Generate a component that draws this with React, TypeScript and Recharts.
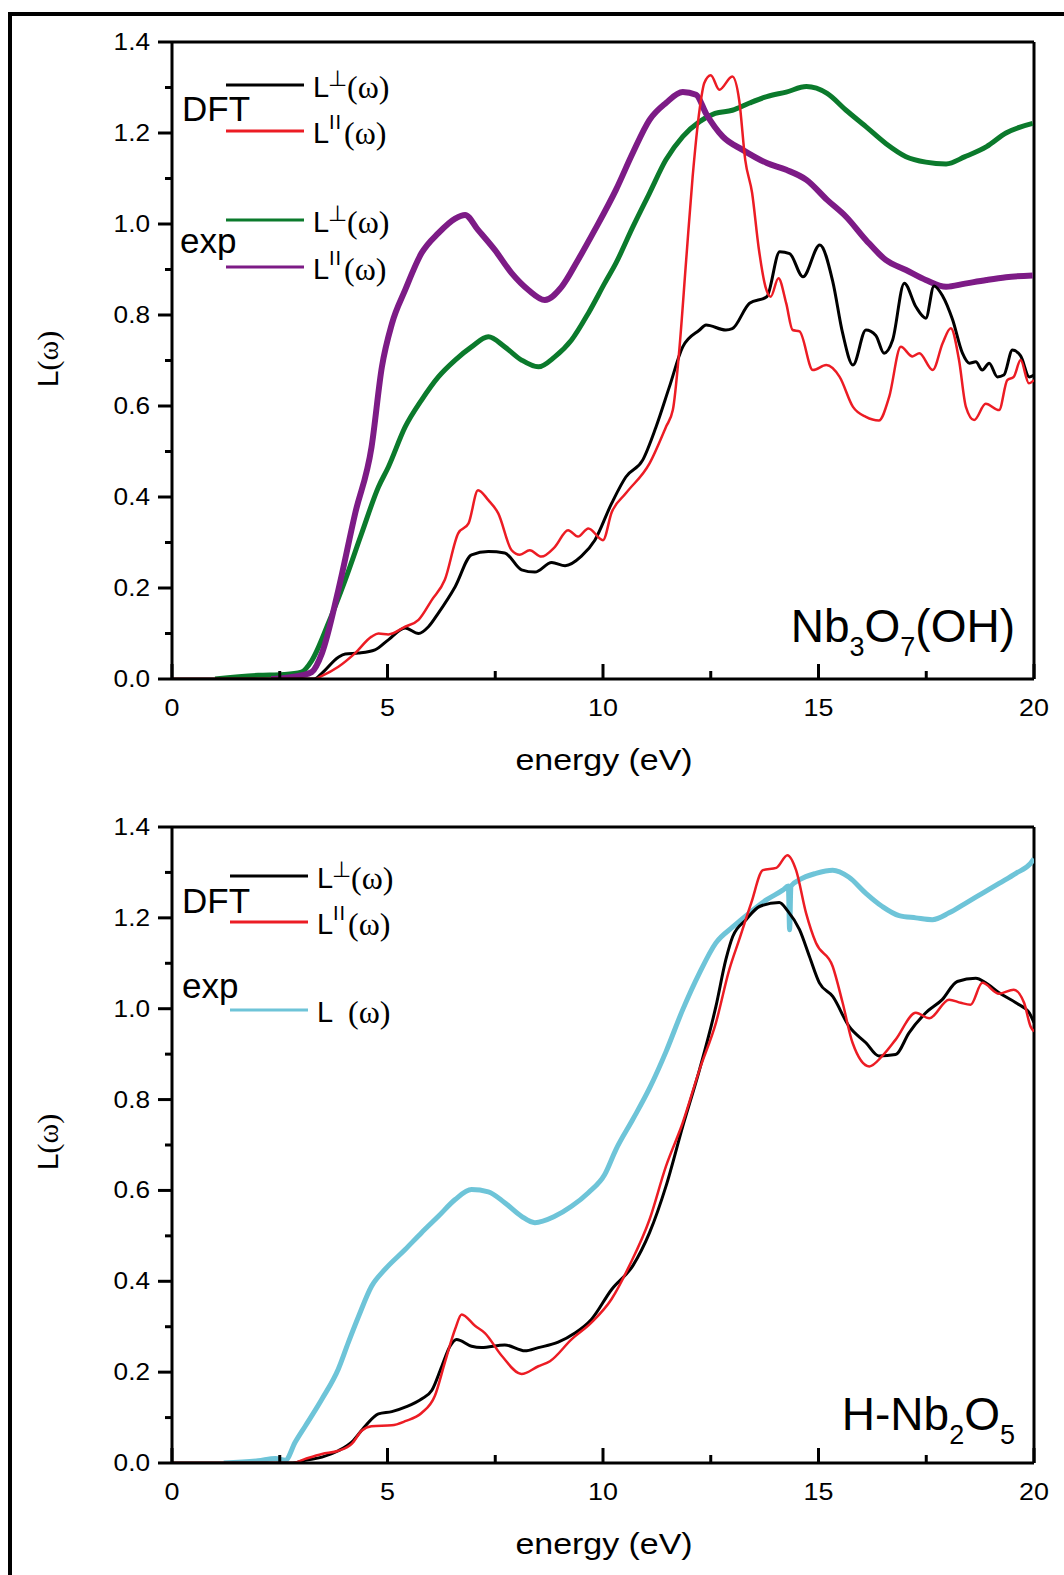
import React from 'react';
import { LineChart, Line, XAxis, YAxis, ReferenceLine } from 'recharts';

// ---------- axis ticks ----------
const xTicks = [0, 2.5, 5, 7.5, 10, 12.5, 15, 17.5, 20];
const xTickLabels = ['0', '', '5', '', '10', '', '15', '', '20'];
const yTicks = [0, 0.1, 0.2, 0.3, 0.4, 0.5, 0.6, 0.7, 0.8, 0.9, 1.0, 1.1, 1.2, 1.3, 1.4];
const yTickLabels = ['0.0', '', '0.2', '', '0.4', '', '0.6', '', '0.8', '', '1.0', '', '1.2', '', '1.4'];

// ---------- panel 1: Nb3O7(OH) ----------
const nbDftPerpE = [0, 3.3, 3.48, 3.86, 4.02, 4.33, 4.71, 5.02, 5.41, 5.72, 5.95, 6.18, 6.57, 6.95, 7.34, 7.72, 8.11, 8.42, 8.81, 9.12, 9.5, 9.81, 10.2, 10.53, 10.92, 11.23, 11.54, 11.85, 12.24, 12.39, 12.85, 13.0, 13.4, 13.8, 14.1, 14.33, 14.64, 15.03, 15.33, 15.56, 15.8, 16.1, 16.33, 16.52, 16.72, 16.99, 17.26, 17.49, 17.68, 17.88, 18.11, 18.34, 18.5, 18.65, 18.8, 18.96, 19.15, 19.3, 19.5, 19.69, 19.89, 20];
const nbDftPerpL = [0, 0, 0.013, 0.048, 0.055, 0.057, 0.064, 0.086, 0.112, 0.1, 0.115, 0.145, 0.203, 0.273, 0.28, 0.277, 0.24, 0.235, 0.256, 0.249, 0.27, 0.305, 0.386, 0.444, 0.481, 0.554, 0.642, 0.73, 0.767, 0.778, 0.767, 0.77, 0.826, 0.84, 0.939, 0.935, 0.884, 0.954, 0.874, 0.76, 0.69, 0.767, 0.755, 0.716, 0.745, 0.87, 0.818, 0.793, 0.864, 0.842, 0.79, 0.716, 0.694, 0.697, 0.679, 0.694, 0.664, 0.668, 0.723, 0.71, 0.664, 0.668];

const nbDftParE = [0, 3.3, 3.48, 3.86, 4.25, 4.63, 4.79, 5.02, 5.41, 5.72, 6.03, 6.33, 6.64, 6.88, 7.1, 7.34, 7.57, 7.88, 8.07, 8.3, 8.57, 8.88, 9.19, 9.42, 9.66, 10.0, 10.2, 10.53, 11.08, 11.46, 11.62, 11.77, 11.93, 12.08, 12.24, 12.35, 12.5, 12.7, 13.0, 13.16, 13.3, 13.46, 13.61, 13.77, 13.89, 14.07, 14.25, 14.4, 14.56, 14.87, 15.18, 15.49, 15.8, 16.1, 16.4, 16.64, 16.91, 17.18, 17.34, 17.65, 17.88, 18.07, 18.26, 18.42, 18.61, 18.88, 19.19, 19.38, 19.53, 19.69, 19.88, 20];
const nbDftParL = [0, 0, 0.007, 0.027, 0.057, 0.093, 0.1, 0.098, 0.115, 0.13, 0.174, 0.218, 0.32, 0.342, 0.415, 0.393, 0.364, 0.283, 0.273, 0.283, 0.269, 0.29, 0.327, 0.313, 0.331, 0.305, 0.366, 0.408, 0.474, 0.554, 0.591, 0.723, 0.921, 1.104, 1.251, 1.31, 1.327, 1.295, 1.324, 1.272, 1.141, 1.068, 0.949, 0.862, 0.84, 0.881, 0.826, 0.767, 0.764, 0.679, 0.69, 0.664, 0.598, 0.576, 0.568, 0.62, 0.73, 0.709, 0.716, 0.679, 0.738, 0.771, 0.701, 0.598, 0.569, 0.605, 0.591, 0.657, 0.664, 0.701, 0.65, 0.657];

const nbExpPerpE = [1.0, 2.0, 2.6, 3.0, 3.24, 3.63, 4.02, 4.4, 4.79, 5.02, 5.41, 5.79, 6.18, 6.57, 6.95, 7.34, 7.72, 8.11, 8.5, 8.88, 9.27, 9.66, 10.04, 10.3, 10.69, 11.08, 11.46, 11.85, 12.24, 12.6, 13.0, 13.4, 13.8, 14.25, 14.72, 15.2, 15.64, 16.1, 16.56, 17.03, 17.49, 17.96, 18.4, 18.9, 19.35, 19.97];
const nbExpPerpL = [0, 0.008, 0.01, 0.015, 0.04, 0.123, 0.218, 0.32, 0.422, 0.466, 0.554, 0.613, 0.664, 0.701, 0.73, 0.752, 0.73, 0.701, 0.686, 0.708, 0.745, 0.804, 0.87, 0.914, 0.993, 1.068, 1.141, 1.192, 1.225, 1.243, 1.25, 1.266, 1.28, 1.29, 1.302, 1.287, 1.25, 1.214, 1.177, 1.148, 1.136, 1.132, 1.148, 1.17, 1.2, 1.221];

const nbExpParE = [2.3, 3.0, 3.24, 3.48, 3.86, 4.25, 4.63, 4.87, 5.1, 5.41, 5.79, 6.18, 6.57, 6.8, 7.1, 7.49, 7.88, 8.27, 8.65, 9.04, 9.42, 9.81, 10.3, 10.69, 11.08, 11.46, 11.85, 12.16, 12.39, 12.78, 13.24, 13.8, 14.25, 14.72, 15.2, 15.64, 16.1, 16.56, 17.03, 17.49, 17.96, 18.4, 18.9, 19.35, 19.97];
const nbExpParL = [0, 0.008, 0.015, 0.057, 0.196, 0.364, 0.51, 0.686, 0.78, 0.855, 0.936, 0.98, 1.012, 1.02, 0.987, 0.943, 0.892, 0.855, 0.833, 0.862, 0.921, 0.987, 1.075, 1.156, 1.229, 1.266, 1.29, 1.284, 1.243, 1.192, 1.163, 1.134, 1.119, 1.097, 1.053, 1.016, 0.965, 0.921, 0.899, 0.877, 0.862, 0.869, 0.877, 0.883, 0.887];

// ---------- panel 2: H-Nb2O5 ----------
const hDftPerpE = [0, 2.8, 3.09, 3.48, 3.86, 4.17, 4.48, 4.79, 5.1, 5.41, 5.79, 6.03, 6.26, 6.45, 6.6, 6.95, 7.18, 7.72, 8.19, 8.5, 8.96, 9.35, 9.73, 10.2, 10.69, 11.08, 11.46, 11.85, 12.24, 12.62, 12.85, 13.01, 13.32, 13.63, 14.09, 14.28, 14.56, 14.79, 15.02, 15.33, 15.71, 16.1, 16.4, 16.79, 17.1, 17.49, 17.87, 18.22, 18.65, 18.88, 19.19, 19.58, 19.89, 20];
const hDftPerpL = [0, 0, 0.006, 0.013, 0.027, 0.046, 0.081, 0.108, 0.113, 0.123, 0.141, 0.16, 0.213, 0.257, 0.272, 0.257, 0.254, 0.26, 0.247, 0.254, 0.266, 0.286, 0.316, 0.382, 0.434, 0.507, 0.609, 0.741, 0.866, 1.005, 1.108, 1.159, 1.196, 1.225, 1.234, 1.216, 1.174, 1.115, 1.057, 1.027, 0.961, 0.925, 0.896, 0.899, 0.947, 0.991, 1.02, 1.06, 1.067, 1.057, 1.035, 1.013, 0.991, 0.969];

const hDftParE = [0, 2.8, 3.09, 3.48, 3.86, 4.17, 4.4, 4.63, 5.1, 5.41, 5.79, 6.1, 6.33, 6.57, 6.72, 7.03, 7.26, 7.65, 8.11, 8.5, 8.77, 9.27, 9.73, 10.2, 10.61, 11.08, 11.46, 11.85, 12.24, 12.62, 12.93, 13.16, 13.44, 13.71, 14.02, 14.28, 14.48, 14.71, 14.94, 15.33, 15.56, 15.79, 16.18, 16.48, 16.79, 17.26, 17.57, 18.03, 18.3, 18.53, 18.8, 19.19, 19.53, 19.77, 19.92, 20];
const hDftParL = [0, 0, 0.009, 0.02, 0.027, 0.042, 0.071, 0.081, 0.083, 0.092, 0.11, 0.148, 0.221, 0.295, 0.327, 0.302, 0.286, 0.236, 0.196, 0.213, 0.224, 0.272, 0.309, 0.361, 0.434, 0.536, 0.653, 0.749, 0.866, 0.969, 1.086, 1.152, 1.233, 1.305, 1.31, 1.338, 1.305, 1.211, 1.145, 1.093, 1.013, 0.925, 0.873, 0.896, 0.932, 0.991, 0.979, 1.02, 1.013, 1.009, 1.057, 1.033, 1.042, 1.013, 0.961, 0.95];

const hExpE = [1.2, 2.0, 2.4, 2.63, 2.86, 3.09, 3.48, 3.86, 4.09, 4.33, 4.63, 4.94, 5.41, 5.79, 6.18, 6.57, 6.95, 7.34, 7.72, 8.11, 8.42, 8.88, 9.27, 9.66, 10.04, 10.3, 10.69, 11.08, 11.46, 11.85, 12.24, 12.62, 13.01, 13.4, 13.8, 14.17, 14.3, 14.33, 14.36, 14.56, 14.94, 15.33, 15.7, 16.1, 16.48, 16.87, 17.26, 17.64, 18.03, 18.41, 18.8, 19.19, 19.58, 19.92, 20];
const hExpL = [0, 0.005, 0.01, 0.006, 0.046, 0.081, 0.141, 0.207, 0.265, 0.323, 0.389, 0.426, 0.47, 0.507, 0.543, 0.58, 0.602, 0.597, 0.573, 0.543, 0.529, 0.543, 0.565, 0.595, 0.635, 0.69, 0.756, 0.825, 0.905, 0.998, 1.079, 1.145, 1.18, 1.211, 1.24, 1.261, 1.27, 1.174, 1.27, 1.284, 1.298, 1.305, 1.29, 1.254, 1.225, 1.205, 1.2, 1.196, 1.211, 1.232, 1.254, 1.276, 1.298, 1.32, 1.33];

const BLACK = '#000000';
const RED = '#ec1c24';
const GREEN = '#0b7a2c';
const PURPLE = '#7d1b86';
const CYAN = '#6ec4d8';
const SANS = '"Liberation Sans", Arial, sans-serif';
const SERIF = '"Liberation Serif", "Times New Roman", serif';

const zip = (xs: number[], ys: number[]) => xs.map((x, i) => ({ x, y: ys[i] }));

const XTick = (props: any) => {
  const { x, y, index } = props;
  const major = index % 2 === 0;
  const label = xTickLabels[index];
  return (
    <g>
      <line x1={x} x2={x} y1={y} y2={y - (major ? 15 : 8)} stroke="#000" strokeWidth={3} />
      {label ? (
        <text transform={`translate(${x},${y + 37}) scale(1.12,1)`} textAnchor="middle" fontFamily={SANS} fontSize={24} fill="#000">
          {label}
        </text>
      ) : null}
    </g>
  );
};

const YTick = (props: any) => {
  const { x, y, index } = props;
  const major = index % 2 === 0;
  const label = yTickLabels[index];
  return (
    <g>
      <line x1={x - (major ? 14 : 7)} x2={x} y1={y} y2={y} stroke="#000" strokeWidth={3} />
      {label ? (
        <text transform={`translate(${x - 22},${y + 8}) scale(1.14,1)`} textAnchor="end" fontFamily={SANS} fontSize={23} fill="#000">
          {label}
        </text>
      ) : null}
    </g>
  );
};

type Series = { name: string; data: { x: number; y: number }[]; color: string; width: number };

function Panel({ top, height, mb, series }: { top: number; height: number; mb: number; series: Series[] }) {
  return (
    <div style={{ position: 'absolute', left: 0, top, width: 1064, height }}>
      <LineChart width={1064} height={height} margin={{ top: 42, right: 30, bottom: mb, left: 112 }}>
        <XAxis
          dataKey="x"
          type="number"
          domain={[0, 20]}
          ticks={xTicks}
          interval={0}
          allowDataOverflow
          tick={(p: any) => <XTick {...p} />}
          tickLine={false}
          tickSize={0}
          tickMargin={0}
          height={40}
          axisLine={{ stroke: '#000', strokeWidth: 3 }}
        />
        <YAxis
          type="number"
          domain={[0, 1.4]}
          ticks={yTicks}
          interval={0}
          allowDataOverflow
          tick={(p: any) => <YTick {...p} />}
          tickLine={false}
          tickSize={0}
          tickMargin={0}
          width={60}
          axisLine={{ stroke: '#000', strokeWidth: 3 }}
        />
        <ReferenceLine y={1.4} stroke="#000" strokeWidth={3} />
        <ReferenceLine x={20} stroke="#000" strokeWidth={3} />
        {series.map((s) => (
          <Line
            key={s.name}
            name={s.name}
            data={s.data}
            dataKey="y"
            type="monotone"
            stroke={s.color}
            strokeWidth={s.width}
            dot={false}
            activeDot={false}
            isAnimationActive={false}
            strokeLinejoin="round"
          />
        ))}
      </LineChart>
    </div>
  );
}

const panel1: Series[] = [
  { name: 'nbExpPerp', data: zip(nbExpPerpE, nbExpPerpL), color: GREEN, width: 5 },
  { name: 'nbExpPar', data: zip(nbExpParE, nbExpParL), color: PURPLE, width: 6 },
  { name: 'nbDftPerp', data: zip(nbDftPerpE, nbDftPerpL), color: BLACK, width: 3 },
  { name: 'nbDftPar', data: zip(nbDftParE, nbDftParL), color: RED, width: 2.5 },
];

const panel2: Series[] = [
  { name: 'hExp', data: zip(hExpE, hExpL), color: CYAN, width: 5 },
  { name: 'hDftPerp', data: zip(hDftPerpE, hDftPerpL), color: BLACK, width: 3 },
  { name: 'hDftPar', data: zip(hDftParE, hDftParL), color: RED, width: 2.5 },
];

function LegendEntry({ lx1, lx2, ly, tx, color, kind }: { lx1: number; lx2: number; ly: number; tx: number; color: string; kind: 'perp' | 'par' | 'plain' }) {
  const base = ly + 12;
  const omegaX = kind === 'perp' ? tx + 34 : kind === 'par' ? tx + 31 : tx + 31;
  return (
    <g>
      <line x1={lx1} x2={lx2} y1={ly} y2={ly} stroke={color} strokeWidth={3} />
      <text fontFamily={SANS} fontSize={29} fill="#000">
        <tspan x={tx} y={base}>L</tspan>
        {kind === 'perp' ? (
          <tspan x={tx + 15} y={ly + 1} fontSize={22} fontFamily='"DejaVu Sans", sans-serif'>⊥</tspan>
        ) : null}
        {kind === 'par' ? (
          <tspan x={tx + 16} y={ly - 2} fontSize={20} letterSpacing={1}>II</tspan>
        ) : null}
        <tspan x={omegaX} y={base + 1} fontFamily={SERIF} fontSize={32}>(ω)</tspan>
      </text>
    </g>
  );
}

function Overlay() {
  return (
    <svg width={1064} height={1575} style={{ position: 'absolute', left: 0, top: 0, pointerEvents: 'none' }}>
      {/* panel 1 legend */}
      <text x={182} y={121} fontFamily={SANS} fontSize={35} fill="#000">DFT</text>
      <LegendEntry lx1={226} lx2={304} ly={85} tx={313} color={BLACK} kind="perp" />
      <LegendEntry lx1={226} lx2={304} ly={131} tx={313} color={RED} kind="par" />
      <text x={180} y={253} fontFamily={SANS} fontSize={35} fill="#000">exp</text>
      <LegendEntry lx1={226} lx2={304} ly={220} tx={313} color={GREEN} kind="perp" />
      <LegendEntry lx1={226} lx2={304} ly={267} tx={313} color={PURPLE} kind="par" />

      {/* panel 2 legend */}
      <text x={182} y={913} fontFamily={SANS} fontSize={35} fill="#000">DFT</text>
      <LegendEntry lx1={230} lx2={308} ly={876} tx={317} color={BLACK} kind="perp" />
      <LegendEntry lx1={230} lx2={308} ly={922} tx={317} color={RED} kind="par" />
      <text x={182} y={998} fontFamily={SANS} fontSize={35} fill="#000">exp</text>
      <LegendEntry lx1={230} lx2={308} ly={1010} tx={317} color={CYAN} kind="plain" />

      {/* compound labels */}
      <text x={1015} y={642} textAnchor="end" fontFamily={SANS} fontSize={46} fill="#000">
        Nb<tspan fontSize={27} dy={14}>3</tspan><tspan dy={-14}>O</tspan><tspan fontSize={27} dy={14}>7</tspan><tspan dy={-14}>(OH)</tspan>
      </text>
      <text x={1015} y={1430} textAnchor="end" fontFamily={SANS} fontSize={46} fill="#000">
        H-Nb<tspan fontSize={27} dy={14}>2</tspan><tspan dy={-14}>O</tspan><tspan fontSize={27} dy={14}>5</tspan>
      </text>

      {/* axis titles */}
      <text transform="translate(604,770) scale(1.17,1)" textAnchor="middle" fontFamily={SANS} fontSize={29} fill="#000">energy (eV)</text>
      <text transform="translate(604,1554) scale(1.17,1)" textAnchor="middle" fontFamily={SANS} fontSize={29} fill="#000">energy (eV)</text>
      <text transform="translate(58,359) rotate(-90)" textAnchor="middle" fontFamily={SANS} fontSize={30} fill="#000">
        L<tspan fontFamily={SERIF}>(ω)</tspan>
      </text>
      <text transform="translate(58,1142) rotate(-90)" textAnchor="middle" fontFamily={SANS} fontSize={30} fill="#000">
        L<tspan fontFamily={SERIF}>(ω)</tspan>
      </text>
    </svg>
  );
}

export default function App() {
  return (
    <div style={{ position: 'absolute', left: 0, top: 0, width: 1064, height: 1575, overflow: 'hidden', background: '#fff' }}>
      <div style={{ position: 'absolute', left: 8, top: 12, width: 1100, height: 1600, borderLeft: '4px solid #000', borderTop: '4px solid #000' }} />
      <Panel top={0} height={780} mb={61} series={panel1} />
      <Panel top={785} height={790} mb={72} series={panel2} />
      <Overlay />
    </div>
  );
}
